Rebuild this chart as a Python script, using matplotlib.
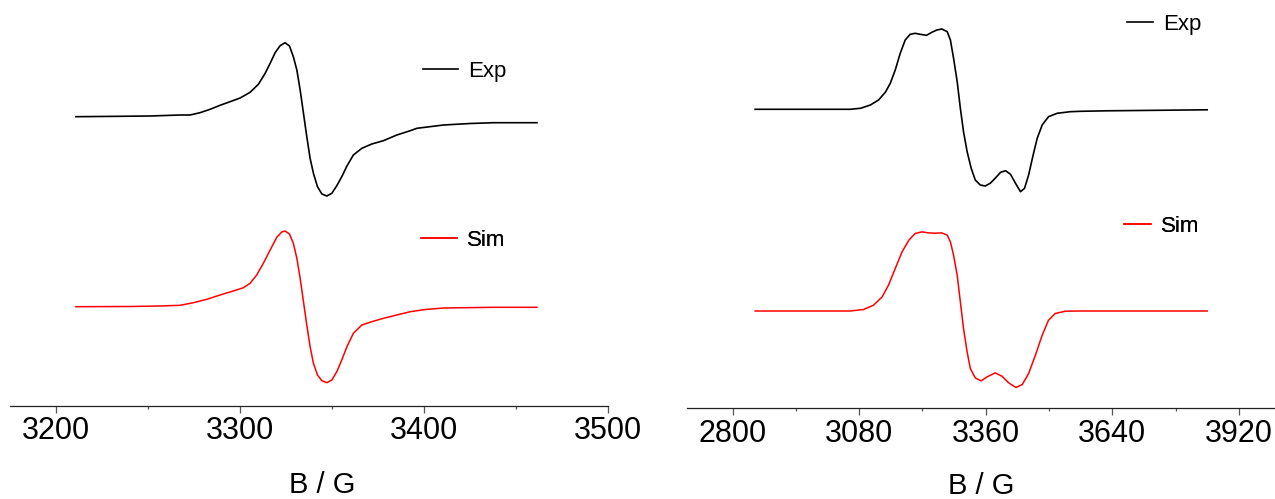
import matplotlib
matplotlib.use('Agg')
import matplotlib.pyplot as plt

plt.rcParams['font.family'] = ['Liberation Sans', 'DejaVu Sans']

# left panel, field in G, intensity in arbitrary units
left_exp_b = [3211.0, 3234.9, 3251.3, 3267.6, 3273.0, 3278.4, 3283.9, 3289.3, 3294.7,
              3300.2, 3305.6, 3310.1, 3313.8, 3316.5, 3319.2, 3321.9, 3324.6, 3327.0,
              3329.1, 3331.0, 3332.8, 3334.6, 3336.4, 3338.2, 3340.0, 3342.2, 3344.6,
              3347.3, 3350.0, 3352.7, 3355.4, 3358.2, 3361.7, 3366.3, 3371.7, 3378.0,
              3385.3, 3392.6, 3396.2, 3410.7, 3425.2, 3437.8, 3461.4]
left_exp_i = [0, 0.4, 0.7, 1.7, 1.7, 4.0, 7.4, 11.4, 15.0, 18.7, 24.4, 32.4, 43.4, 53.4,
              64.0, 71.0, 74.0, 70.7, 60.0, 46.7, 26.7, 3.4, -20.0, -41.6, -56.6, -70.0,
              -77.3, -79.3, -76.6, -69.0, -60.0, -49.3, -38.3, -31.6, -27.3, -24.0, -18.3,
              -14.0, -11.6, -8.3, -6.8, -6.0, -6.0]

left_sim_b = [3211.0, 3240.4, 3256.7, 3267.6, 3274.8, 3282.1, 3289.3, 3296.5, 3302.0,
              3305.6, 3309.2, 3312.8, 3316.5, 3320.1, 3322.8, 3324.6, 3327.0, 3329.1,
              3331.0, 3332.8, 3334.6, 3336.4, 3338.2, 3340.0, 3342.2, 3344.6, 3347.3,
              3350.0, 3352.7, 3355.4, 3358.2, 3361.7, 3366.3, 3371.7, 3378.0, 3385.3,
              3392.6, 3400.8, 3410.7, 3437.8, 3461.4]
left_sim_i = [0, 0.2, 0.7, 1.4, 4.0, 7.4, 11.7, 15.7, 19.0, 23.4, 31.7, 43.4, 56.7, 69.4,
              74.7, 75.7, 72.7, 63.4, 48.4, 28.4, 5.0, -18.3, -40.0, -56.6, -68.3, -74.0,
              -76.0, -73.3, -65.0, -53.3, -40.0, -26.6, -18.3, -15.0, -11.6, -8.3, -5.0,
              -2.8, -1.3, -0.6, -0.6]

# right panel
right_exp_b = [2850, 3060, 3083, 3105, 3123, 3138, 3149, 3160, 3171, 3182, 3193, 3204,
               3215, 3229, 3241, 3252, 3263, 3275, 3282, 3289, 3297, 3304, 3311, 3319,
               3328, 3337, 3348, 3359, 3370, 3381, 3393, 3404, 3415, 3426, 3437, 3446,
               3455, 3465, 3474, 3485, 3499, 3518, 3547, 3570, 3629, 3850]
right_exp_i = [0, 0, 1.0, 4.3, 9.3, 17.0, 26.0, 39.3, 56.0, 69.3, 75.0, 76.0, 75.0, 74.0,
               77.0, 79.3, 80.3, 77.6, 69.3, 51.0, 27.6, 1.0, -22.4, -42.4, -59.0, -70.7,
               -75.7, -76.7, -74.0, -69.0, -63.0, -61.4, -65.0, -74.0, -82.4, -79.0, -65.7,
               -45.7, -29.0, -15.7, -7.4, -4.0, -2.4, -2.0, -1.5, -0.5]

right_sim_b = [2850, 3060, 3090, 3112, 3131, 3145, 3160, 3175, 3190, 3204, 3219, 3234,
               3249, 3263, 3275, 3282, 3289, 3297, 3304, 3311, 3319, 3326, 3337, 3350,
               3363, 3381, 3396, 3411, 3427, 3441, 3455, 3470, 3485, 3499, 3514, 3536,
               3570, 3850]
right_sim_i = [0, 0, 1.5, 5.8, 14.1, 25.8, 42.5, 59.1, 70.8, 77.5, 79.1, 78.1, 77.8, 78.1,
               75.8, 69.1, 55.8, 35.8, 9.1, -17.5, -40.9, -57.5, -66.9, -69.9, -65.9,
               -61.9, -65.2, -71.9, -76.5, -73.5, -62.5, -44.2, -24.2, -9.2, -2.5, -0.2,
               0, 0]

left_ticks = [3200, 3300, 3400, 3500]
right_ticks = [2800, 3080, 3360, 3640, 3920]

W, H = 1275, 499
fig = plt.figure(figsize=(W / 100, H / 100), dpi=100)

ax1 = fig.add_axes([10 / W, (H - 405.7) / H, 598 / W, 405.7 / H])
ax2 = fig.add_axes([687.3 / W, (H - 408.3) / H, (W - 687.3) / W, 408.3 / H])


def style(ax, ticks, xlim, ylim):
    ax.set_xlim(*xlim)
    ax.set_ylim(*ylim)
    for s in ['top', 'right', 'left']:
        ax.spines[s].set_visible(False)
    ax.spines['bottom'].set_linewidth(0.9)
    ax.spines['bottom'].set_color('#222222')
    ax.set_yticks([])
    ax.set_xticks(ticks)
    minors = [(a + b) / 2 for a, b in zip(ticks[:-1], ticks[1:])]
    ax.set_xticks(minors, minor=True)
    ax.tick_params(axis='x', which='major', direction='out', length=4.8, width=0.9,
                   color='#555555', labelsize=22, pad=2.6)
    ax.tick_params(axis='x', which='minor', direction='out', length=2.4, width=0.9,
                   color='#555555')
    ax.patch.set_visible(False)


style(ax1, left_ticks, (3175.2, 3500), (-99, 306.7))
style(ax2, right_ticks, (2700, 4000), (-97.3, 311))

off1 = 190
off2 = 201.7

l1e, = ax1.plot(left_exp_b, [v + off1 for v in left_exp_i], color='black', lw=1.2, label='Exp')
l1s, = ax1.plot(left_sim_b, left_sim_i, color='#ff0000', lw=1.1, label='Sim')
l2e, = ax2.plot(right_exp_b, [v + off2 for v in right_exp_i], color='black', lw=1.2, label='Exp')
l2s, = ax2.plot(right_sim_b, right_sim_i, color='#ff0000', lw=1.1, label='Sim')


def leg(ax, h, x, y, hl):
    lg = ax.legend(handles=[h], loc='center left', bbox_to_anchor=(x / W, 1 - y / H),
                   bbox_transform=fig.transFigure, frameon=False, fontsize=16,
                   borderpad=0, borderaxespad=0, handlelength=hl, handletextpad=0.45)
    ax.add_artist(lg)


leg(ax1, l1e, 422.7, 71, 1.6)
leg(ax1, l1s, 421, 240, 1.6)
leg(ax2, l2e, 1126.7, 24.3, 1.2)
leg(ax2, l2s, 1124.3, 226, 1.2)

ax1.set_xlabel('B / G', fontsize=21)
ax1.xaxis.set_label_coords(0.522, -0.16)
ax2.set_xlabel('B / G', fontsize=21)
ax2.xaxis.set_label_coords(0.5006, -0.157)

fig.savefig('out.png', dpi=100)
